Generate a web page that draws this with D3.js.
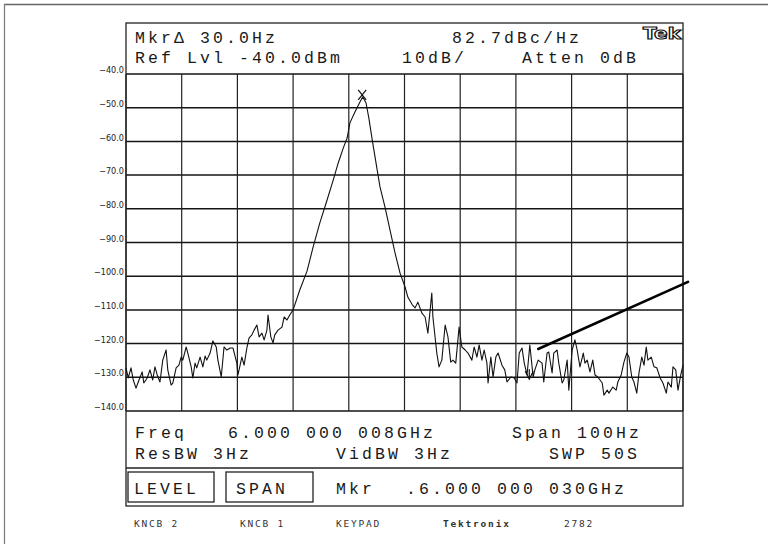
<!DOCTYPE html>
<html><head><meta charset="utf-8">
<script src="https://cdn.jsdelivr.net/npm/d3@7"></script>
<style>html,body{margin:0;padding:0;background:#fff;} svg{display:block;}</style>
</head><body><svg id="c" width="768" height="544"></svg>
<script>
// ---- data (frequency offset from centre in Hz, level in dBm) ----
const freqHz = [-50.0,-49.6,-49.1,-48.7,-48.2,-47.8,-47.1,-46.8,-46.2,-45.7,-45.2,-44.8,-44.4,-43.9,-43.4,-42.8,-42.5,-41.9,-41.6,-41.0,-40.5,-40.1,-39.8,-39.2,-38.9,-38.3,-38.0,-37.6,-37.3,-36.7,-36.2,-35.8,-35.5,-34.9,-34.4,-33.8,-33.5,-32.9,-32.4,-31.9,-31.3,-30.8,-30.1,-29.9,-29.2,-28.8,-28.3,-27.9,-27.4,-27.0,-26.5,-26.1,-25.6,-25.2,-24.7,-24.5,-24.0,-23.6,-23.3,-22.7,-22.0,-21.6,-21.1,-20.6,-20.0,-18.8,-17.5,-16.4,-15.2,-13.9,-12.8,-11.9,-11.0,-10.3,-9.8,-8.9,-8.0,-7.5,-6.9,-6.4,-5.7,-4.9,-4.4,-3.5,-2.6,-1.7,-0.8,0.1,0.6,1.4,1.9,2.4,3.1,3.7,4.2,4.9,5.1,5.8,6.2,6.7,7.3,7.8,8.3,8.7,9.2,9.8,10.3,10.9,11.4,12.1,12.5,13.0,13.4,13.9,14.3,14.8,15.0,15.5,15.9,16.4,16.8,17.5,18.0,18.4,19.1,19.7,20.2,20.6,21.1,21.5,22.0,22.5,23.1,23.4,24.0,24.7,25.0,25.6,25.9,26.5,26.8,27.4,27.7,28.3,28.6,29.2,29.5,30.1,30.6,31.0,31.5,32.1,32.4,32.8,33.3,33.8,34.2,34.7,35.5,35.8,36.4,36.7,37.4,38.0,38.3,38.9,39.4,39.9,40.3,40.8,41.2,41.7,42.1,42.6,43.0,43.4,43.7,44.3,44.8,45.3,45.9,46.4,47.0,47.3,47.9,48.2,48.7,49.1,49.6,50.0];
const levelDbm = [-127.2,-130.2,-127.2,-130.8,-133.2,-131.4,-128.4,-131.7,-130.2,-127.8,-130.8,-126.9,-129.3,-131.4,-124.9,-121.9,-127.8,-132.3,-131.7,-127.2,-126.4,-124.0,-124.9,-121.0,-122.8,-126.9,-130.2,-125.8,-127.2,-124.0,-126.9,-123.7,-124.9,-122.8,-119.2,-121.0,-124.9,-129.9,-121.0,-121.9,-121.3,-121.3,-125.8,-129.3,-124.0,-126.4,-121.3,-118.3,-117.4,-116.0,-114.5,-118.0,-116.9,-118.9,-116.0,-111.5,-118.0,-119.8,-117.4,-116.0,-115.1,-112.1,-113.0,-111.5,-110.0,-104.1,-98.5,-91.3,-84.2,-77.4,-71.5,-66.4,-62.0,-59.0,-54.5,-51.3,-48.3,-46.8,-48.6,-53.1,-60.5,-68.5,-73.5,-79.5,-86.3,-93.1,-99.1,-103.2,-106.2,-108.5,-109.4,-107.7,-110.9,-112.1,-116.9,-105.0,-112.1,-122.8,-126.9,-124.9,-114.5,-118.0,-125.5,-124.9,-125.8,-115.1,-121.0,-121.9,-122.8,-124.9,-121.0,-124.0,-120.4,-124.9,-121.9,-125.8,-131.7,-124.0,-129.9,-124.0,-122.8,-126.4,-127.8,-131.4,-129.9,-130.2,-131.7,-122.8,-121.3,-125.8,-129.3,-120.4,-129.9,-127.8,-124.9,-125.8,-131.4,-122.8,-122.5,-128.7,-122.8,-121.9,-125.8,-131.7,-130.8,-124.9,-133.8,-121.9,-118.9,-121.9,-126.9,-122.8,-125.8,-124.9,-128.4,-124.9,-129.3,-129.9,-131.7,-135.3,-133.8,-134.7,-132.9,-133.8,-131.4,-129.3,-125.5,-122.8,-124.0,-129.9,-131.4,-134.7,-128.7,-124.0,-126.4,-121.0,-124.9,-124.0,-126.9,-127.2,-130.2,-131.7,-134.7,-131.4,-132.9,-126.9,-127.8,-133.8,-129.3,-126.4];
const levelTicks = [-40,-50,-60,-70,-80,-90,-100,-110,-120,-130,-140];
const freqTicks = [-50,-40,-30,-20,-10,0,10,20,30,40,50];
const markerFreq = [-7.6, 22.4];
const markerLevel = [-46.2, -129.4];
const annotFreq = [24.0, 50.9];
const annotLevel = [-121.6, -101.7];
const headerTexts = ["MkrΔ 30.0Hz", "82.7dBc/Hz", "Ref Lvl -40.0dBm", "10dB/", "Atten 0dB"];
const footerTexts = ["Freq", "6.000 000 008GHz", "Span 100Hz", "ResBW 3Hz", "VidBW 3Hz", "SWP 50S"];
const buttonTexts = ["LEVEL", "SPAN"];
const markerTexts = ["Mkr", ".6.000 000 030GHz"];
const knobTexts = ["KNCB 2", "KNCB 1", "KEYPAD", "Tektronix", "2782"];

// ---- drawing ----
const svg = d3.select("#c");
svg.append("rect").attr("width",768).attr("height",544).attr("fill","#fff");

const x = d3.scaleLinear().domain([-50,50]).range([126,683]);
const y = d3.scaleLinear().domain([-140,-40]).range([411,74]);

// scan border
svg.append("line").attr("x1",4).attr("x2",768).attr("y1",4.5).attr("y2",4.5).attr("stroke","#666").attr("stroke-width",1.3);
svg.append("line").attr("x1",4.5).attr("x2",4.5).attr("y1",4).attr("y2",544).attr("stroke","#777").attr("stroke-width",1.2);

// instrument frame
const FL=126, FR=683, FT=23, FB=506;
svg.append("rect").attr("x",FL).attr("y",FT).attr("width",FR-FL).attr("height",FB-FT)
  .attr("fill","none").attr("stroke","#222").attr("stroke-width",1.3);
svg.append("line").attr("x1",FL).attr("x2",FR).attr("y1",468).attr("y2",468).attr("stroke","#222").attr("stroke-width",1.3);

// horizontal grid
svg.append("g").selectAll("line").data(levelTicks).join("line")
  .attr("x1",x(-50)).attr("x2",x(50)).attr("y1",d=>y(d)).attr("y2",d=>y(d))
  .attr("stroke","#151515").attr("stroke-width",1.5);
// vertical grid
svg.append("g").selectAll("line").data(freqTicks).join("line")
  .attr("x1",d=>x(d)).attr("x2",d=>x(d)).attr("y1",y(-40)).attr("y2",y(-140))
  .attr("stroke","#222").attr("stroke-width",1.2);

// y labels
const ax = d3.axisLeft(y).tickValues(levelTicks).tickSize(0).tickPadding(2).tickFormat(d3.format(".1f"));
const gA = svg.append("g").attr("transform",`translate(${FL},0)`).call(ax);
gA.select(".domain").remove();
gA.selectAll("text").attr("font-family","'Liberation Sans Narrow','DejaVu Sans Condensed','DejaVu Sans',sans-serif")
  .attr("font-stretch","condensed").attr("font-size",9).attr("fill","#222").attr("dy","-0.15em");

// trace
const pts = freqHz.map((f,i)=>[f, levelDbm[i]]);
svg.append("path").datum(pts)
  .attr("d", d3.line().x(d=>x(d[0])).y(d=>y(d[1])))
  .attr("fill","none").attr("stroke","#111").attr("stroke-width",1.1).attr("stroke-linejoin","round");

// markers
const m0x = x(markerFreq[0]), m0y = y(markerLevel[0]);
svg.append("path").attr("d",`M${m0x-4},${m0y-5}L${m0x+4},${m0y+5}M${m0x+4},${m0y-5}L${m0x-4},${m0y+5}`)
  .attr("stroke","#111").attr("stroke-width",1.2);
const m1x = x(markerFreq[1]), m1y = y(markerLevel[1]);
svg.append("path").attr("d",`M${m1x-4},${m1y-4}L${m1x},${m1y+4}L${m1x+4},${m1y-4}M${m1x},${m1y+4}L${m1x},${m1y-6}`)
  .attr("fill","none").attr("stroke","#111").attr("stroke-width",1.2);

// annotation line
svg.append("line")
  .attr("x1",x(annotFreq[0])).attr("y1",y(annotLevel[0]))
  .attr("x2",x(annotFreq[1])).attr("y2",y(annotLevel[1]))
  .attr("stroke","#000").attr("stroke-width",2.6).attr("stroke-linecap","round");

// text helpers
const mono = "'Liberation Mono','DejaVu Sans Mono',monospace";
function txt(s, tx, ty, opts={}) {
  return svg.append("text").attr("x",tx).attr("y",ty).text(s)
    .attr("font-family",opts.font||mono).attr("font-size",opts.size||16.5)
    .attr("letter-spacing",opts.ls!==undefined?opts.ls:3.1).attr("fill",opts.fill||"#1a1a1a")
    .attr("font-weight",opts.weight||"normal");
}
// header
txt(headerTexts[0],135,43);
txt(headerTexts[1],452,43);
txt(headerTexts[2],135,63);
txt(headerTexts[3],402,63);
txt(headerTexts[4],522,63);
// Tek logo
svg.append("text").attr("x",643).attr("y",39).text("Tek")
  .attr("font-family","'DejaVu Sans',sans-serif").attr("font-weight","bold").attr("font-size",15)
  .attr("textLength",38).attr("lengthAdjust","spacingAndGlyphs")
  .attr("fill","#fff").attr("stroke","#111").attr("stroke-width",1.1);

// lower panel
txt(footerTexts[0],135,438);
txt(footerTexts[1],228,438);
txt(footerTexts[2],512,438);
txt(footerTexts[3],135,459);
txt(footerTexts[4],336,459);
txt(footerTexts[5],549,459);

// buttons
const btnX = [[128,214],[226,313]];
btnX.forEach((b,i)=>{
  svg.append("rect").attr("x",b[0]).attr("y",472).attr("width",b[1]-b[0]).attr("height",30)
    .attr("fill","none").attr("stroke","#222").attr("stroke-width",1.3);
});
txt(buttonTexts[0],134,494);
txt(buttonTexts[1],236,494);
txt(markerTexts[0],336,494);
txt(markerTexts[1],406,494);

// knob labels
const kx = [134,240,336,443,564];
knobTexts.forEach((s,i)=>{
  txt(s,kx[i],527,{font:"'DejaVu Sans Mono',monospace",size:9.5,ls:1.8,fill:"#333",weight:i===3?"bold":"normal"});
});
</script></body></html>
